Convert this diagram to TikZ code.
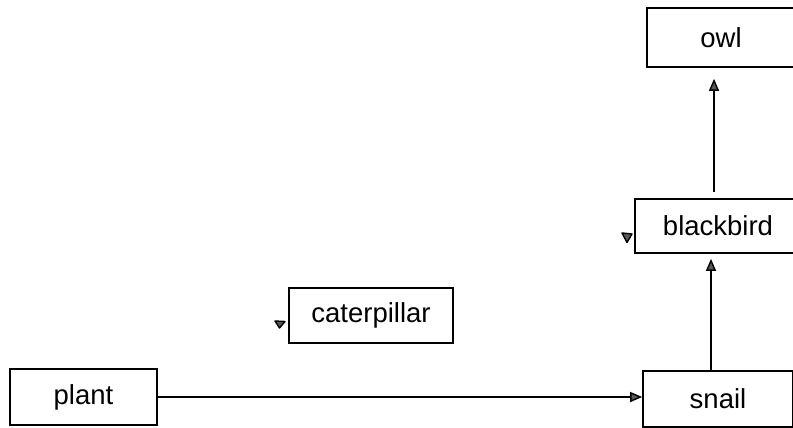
\documentclass[tikz,border=0pt]{standalone}
\usepackage{fontspec}
\setmainfont{Liberation Sans}
\usetikzlibrary{arrows.meta}
\begin{document}
\begin{tikzpicture}[x=1pt,y=-1pt,
  box/.style={draw=black,line width=1.7pt,rectangle,inner sep=0pt,font=\fontsize{27.5}{30}\selectfont},
  conn/.style={draw=black,line width=1.4pt,-{Triangle[length=12pt,width=10pt,fill=gray!70!black,line width=1.4pt]}},
  stray/.style={draw=black,fill=gray!70!black,line width=1.4pt,line join=round}]
\clip (0,0) rectangle (793,428);
\fill[white] (0,0) rectangle (793,428);
\node[box,minimum width=147pt,minimum height=56pt] (plant) at (83.5,397) {plant};
\node[box,minimum width=150pt,minimum height=56pt] (snail) at (718,399) {snail};
\node[box,minimum width=164pt,minimum height=55pt] (cat) at (371,315.5) {caterpillar};
\node[box,minimum width=166pt,minimum height=54pt] (bb) at (718,226) {blackbird};
\node[box,minimum width=148pt,minimum height=59pt] (owl) at (721,37.5) {owl};
\draw[conn] (plant.east) -- (plant.east -| snail.west);
\draw[conn,shorten >=5pt] (snail.north -| 711,0) -- (bb.south -| 711,0);
\draw[conn,shorten <=6pt,shorten >=11pt] (bb.north -| 714,0) -- (owl.south -| 714,0);
\path[stray] (275,321) -- (285,321.5) -- (279.5,328) -- cycle;
\path[stray] (622,233) -- (632,234) -- (627,242.5) -- cycle;
\end{tikzpicture}
\end{document}
